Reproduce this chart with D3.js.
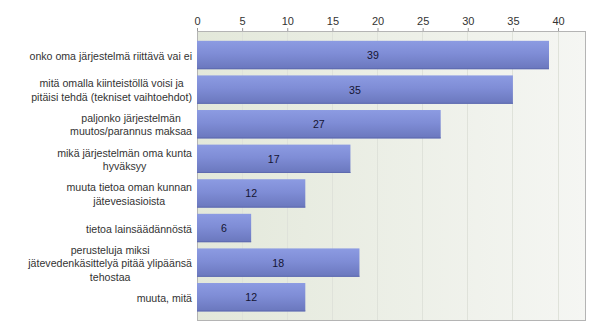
<!DOCTYPE html>
<html><head><meta charset="utf-8">
<script src="https://cdn.jsdelivr.net/npm/d3@7"></script>
<style>
body{margin:0;background:#fff;}
text{font-family:"Liberation Sans",Arial,sans-serif;}
</style></head>
<body><svg id="c" width="600" height="336"></svg>
<script>
const categories = [
  ["onko oma järjestelmä riittävä vai ei"],
  ["mitä omalla kiinteistöllä voisi ja", "pitäisi tehdä (tekniset vaihtoehdot)"],
  ["paljonko järjestelmän", "muutos/parannus maksaa"],
  ["mikä järjestelmän oma kunta", "hyväksyy"],
  ["muuta tietoa oman kunnan", "jätevesiasioista"],
  ["tietoa lainsäädännöstä"],
  ["perusteluja miksi", "jätevedenkäsittelyä pitää ylipäänsä", "tehostaa"],
  ["muuta, mitä"]
];
const values = [39, 35, 27, 17, 12, 6, 18, 12];
const tickValues = [0, 5, 10, 15, 20, 25, 30, 35, 40];

(function(){
const svg = d3.select("#c");
const pL = 197, pR = 586, pT = 31, pB = 321;
const x = d3.scaleLinear().domain([0, 43.1]).range([pL, pR]);
const y = d3.scaleBand().domain(d3.range(categories.length)).range([37.7, 314.5]).paddingInner(0.18).paddingOuter(0.09);

const defs = svg.append("defs");
const bg = defs.append("linearGradient").attr("id","bg").attr("x1","0").attr("x2","1").attr("y1","0").attr("y2","0");
bg.append("stop").attr("offset","0").attr("stop-color","#e3e8da");
bg.append("stop").attr("offset","1").attr("stop-color","#f5f6f3");
const bar = defs.append("linearGradient").attr("id","bar").attr("x1","0").attr("x2","0").attr("y1","0").attr("y2","1");
bar.append("stop").attr("offset","0").attr("stop-color","#8c9be2");
bar.append("stop").attr("offset","0.45").attr("stop-color","#7f8dd6");
bar.append("stop").attr("offset","1").attr("stop-color","#6a77bd");

svg.append("rect").attr("x", pL).attr("y", pT).attr("width", pR-pL).attr("height", pB-pT).attr("fill","url(#bg)");

svg.append("g").selectAll("line").data(tickValues.slice(1)).join("line")
  .attr("x1", d=>x(d)).attr("x2", d=>x(d)).attr("y1", pT).attr("y2", pB)
  .attr("stroke","#dfe2da").attr("stroke-width",1).attr("shape-rendering","crispEdges");

svg.append("rect").attr("x", pL+0.5).attr("y", pT+0.5).attr("width", pR-pL-1).attr("height", pB-pT-1)
  .attr("fill","none").attr("stroke","#b4b4b4");

const axis = d3.axisTop(x).tickValues(tickValues).tickSize(3).tickPadding(3);
const ga = svg.append("g").attr("transform", `translate(0,${pT})`).call(axis);
ga.select(".domain").remove();
ga.selectAll(".tick line").attr("stroke","#999");
ga.selectAll(".tick text").attr("fill","#333").attr("font-size","11px").attr("font-family","Liberation Sans, Arial, sans-serif");

svg.append("g").selectAll("rect").data(values).join("rect")
  .attr("x", x(0)).attr("y", (d,i)=>y(i)).attr("width", d=>x(d)-x(0)).attr("height", y.bandwidth())
  .attr("fill","url(#bar)");
svg.append("g").selectAll("line").data(values).join("line")
  .attr("x1", x(0)).attr("x2", d=>x(d)).attr("y1",(d,i)=>y(i)+y.bandwidth()-0.5).attr("y2",(d,i)=>y(i)+y.bandwidth()-0.5)
  .attr("stroke","#5f6bb0");

svg.append("g").selectAll("text").data(values).join("text")
  .attr("x", d=>(x(0)+x(d))/2).attr("y",(d,i)=>y(i)+y.bandwidth()/2+4)
  .attr("text-anchor","middle").attr("font-size","10.6px").attr("fill","#141432").text(d=>d);

const lh = 13.5;
categories.forEach((lines, i) => {
  const g = svg.append("g");
  const cy = y(i) + y.bandwidth()/2;
  const texts = lines.map((l, k) => g.append("text").attr("font-size","10.6px").attr("fill","#333")
    .attr("y", cy + (k - (lines.length-1)/2)*lh + 4.5).text(l));
  const maxW = d3.max(texts, t => t.node().getComputedTextLength());
  texts.forEach(t => t.attr("text-anchor","middle").attr("x", 192 - maxW/2));
});
})();
</script></body></html>
